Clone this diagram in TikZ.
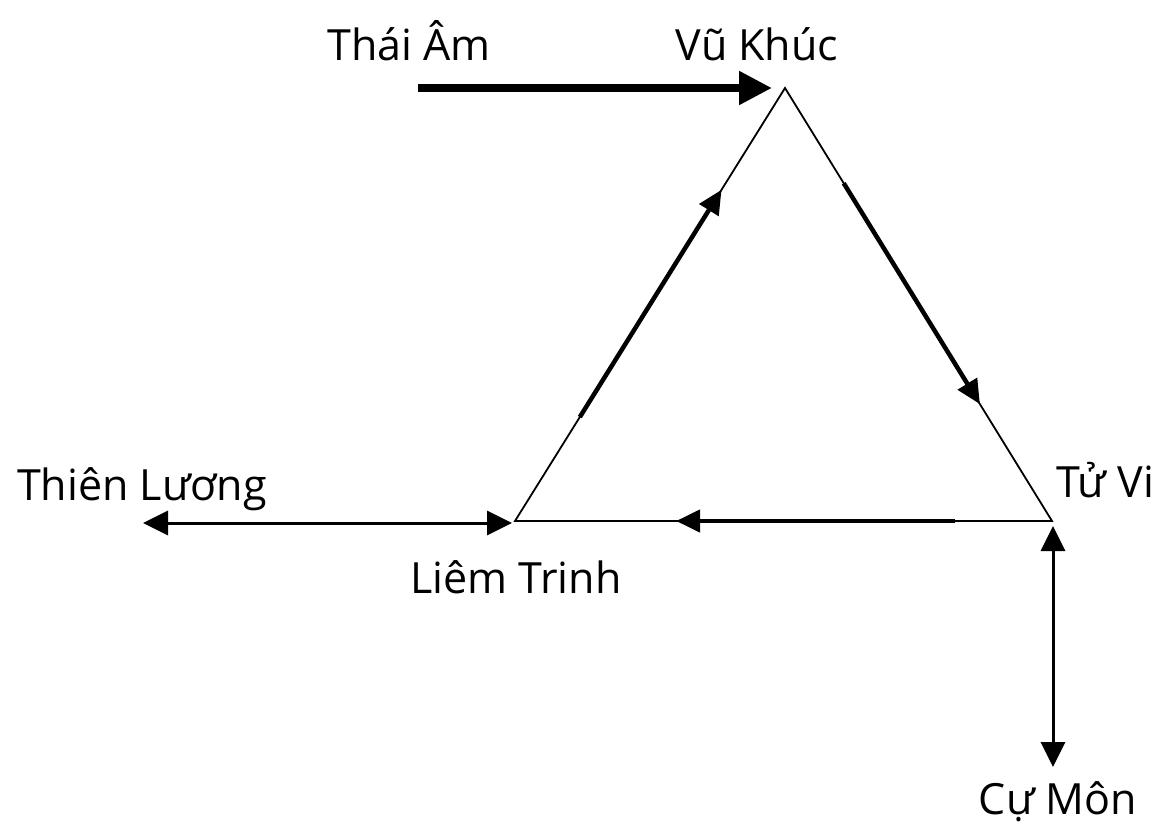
\documentclass[tikz,border=0pt]{standalone}
\usepackage{fontspec}
\setmainfont{Open Sans}
\usetikzlibrary{arrows.meta,calc}
\begin{document}
\begin{tikzpicture}[x=1pt,y=-1pt,
  lbl/.style={anchor=base,inner sep=0pt,font=\fontsize{43}{50}\selectfont},
  edge/.style={line width=1.8pt,line join=miter},
  flow/.style={line width=4.5pt,-{Triangle[length=24pt,width=22pt]}},
  bigflow/.style={line width=8pt,-{Triangle[length=33pt,width=32pt]}},
  link/.style={line width=3pt,{Triangle[length=25pt,width=24pt]}-{Triangle[length=25pt,width=24pt]}}]
\useasboundingbox (0,0) rectangle (1165,827);
\coordinate (V) at (785,88);
\coordinate (T) at (1052,521);
\coordinate (L) at (515,521);
\coordinate (TAs) at (418,88);
\coordinate (TLe) at (143,523);
\coordinate (TLr) at (512,523);
\coordinate (CMt) at (1053,526);
\coordinate (CMb) at (1053,767);
\node[lbl] (thaiam) at (409,60) {Thái Âm};
\node[lbl] (vukhuc) at (757,60) {Vũ Khúc};
\node[lbl] (thienluong) at (142,500) {Thiên Lương};
\node[lbl] (tuvi) at (1105,497) {Tử Vi};
\node[lbl] (liemtrinh) at (516,593) {Liêm Trinh};
\node[lbl] (cumon) at (1058,814) {Cự Môn};
\draw[edge] (L) -- (V) -- (T) -- cycle;
\draw[flow] ($(L)!0.24!(V)$) -- ($(L)!0.765!(V)$);
\draw[flow] ($(V)!0.22!(T)$) -- ($(V)!0.73!(T)$);
\draw[flow] ($(T)!0.18!(L)$) -- ($(T)!0.70!(L)$);
\draw[bigflow] (TAs) -- (V) [shorten >=13pt];
\draw[link] (TLe) -- (TLr);
\draw[link] (CMt) -- (CMb);
\end{tikzpicture}
\end{document}
